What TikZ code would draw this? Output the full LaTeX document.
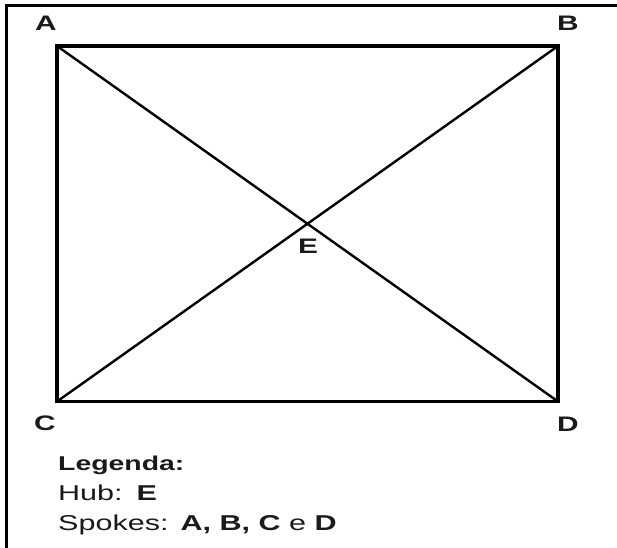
\documentclass[tikz,border=0pt]{standalone}
\usepackage{fontspec}
\setmainfont[FakeStretch=1.42]{Liberation Sans}
\usetikzlibrary{positioning}
\definecolor{ink}{HTML}{1A1A1A}
\tikzset{
  every node/.style={font=\fontsize{21.5}{24}\selectfont,text=ink,inner sep=0pt},
  corner/.style={font=\fontsize{21}{24}\selectfont\bfseries,anchor=base},
  legend/.style={anchor=base west},
  edge/.style={line width=3.6pt,draw=black},
  spoke/.style={line width=2.4pt,draw=black},
  frame/.style={line width=2.2pt,draw=black},
}

\begin{document}
\begin{tikzpicture}[x=1pt,y=-1pt]
\useasboundingbox (0,0) rectangle (617,547);
\draw[frame] (6.5,560) -- (6.5,5.5) -- (630,5.5);
% corners of the star and the hub
\coordinate (A) at (57,46);
\coordinate (B) at (558,46);
\coordinate (C) at (57,401.5);
\coordinate (D) at (558,401.5);
\draw[spoke] (A) -- (D);
\draw[spoke] (B) -- (C);
\draw[edge] (A) -- (B) -- (D) -- (C) -- cycle;
\node[corner] (la) at (46,30) {A};
\node[corner] (lb) at (568,30) {B};
\node[corner] (lc) at (45,430) {C};
\node[corner] (ld) at (568,431) {D};
\node[corner] (le) at (308,253) {E};
% legenda
\node[legend,font=\fontsize{20}{24}\selectfont\bfseries] (leg) at (58,470) {Legenda:};
\node[legend] (hub) at (58,500) {Hub:\hspace{14pt}\textbf{E}};
\node[legend] (spk) at (58,530) {Spokes:\hspace{12pt}\textbf{A, B, C} e \textbf{D}};
\end{tikzpicture}
\end{document}
